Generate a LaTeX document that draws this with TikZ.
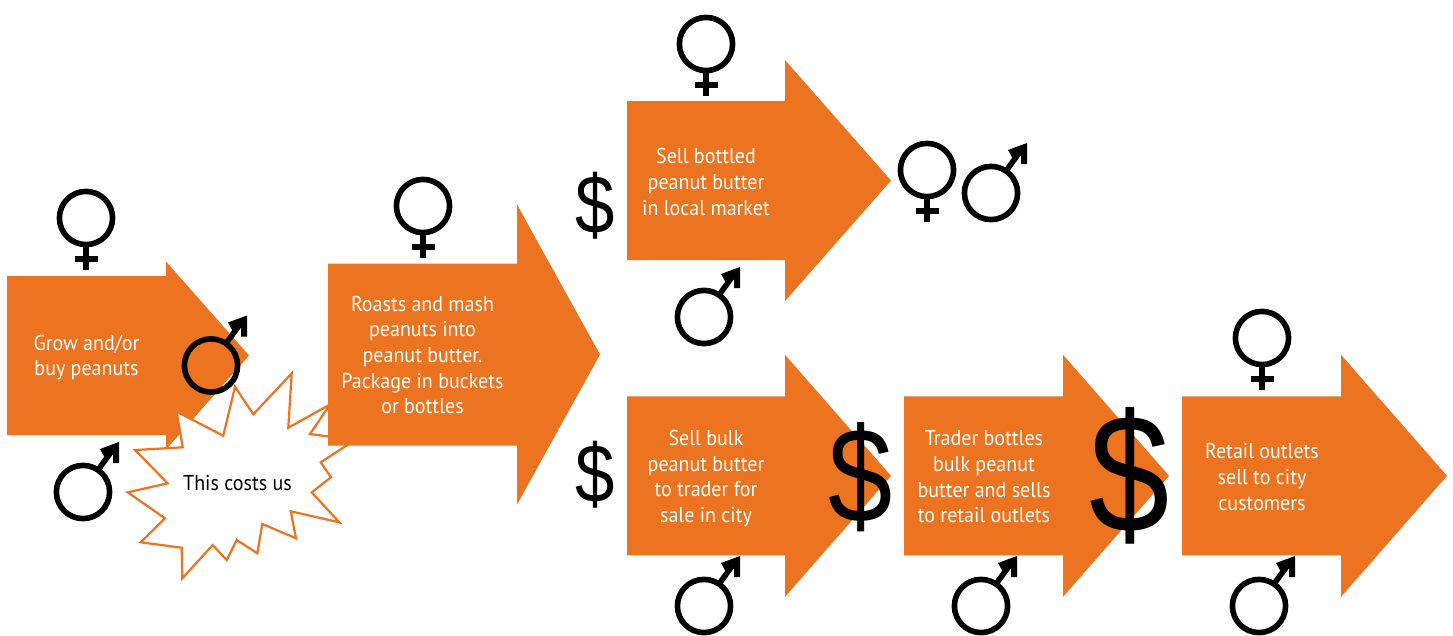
\documentclass[tikz,border=0pt]{standalone}
\usepackage{fontspec}
\setmainfont{PT Sans}[FakeStretch=0.93]
\newfontfamily\dollarfont{Liberation Sans}
\definecolor{peach}{HTML}{EC731F}
\tikzset{
  x=1pt,y=-1pt,
  flowarrow/.style={fill=peach,draw=none},
  flowtext/.style={text=white,align=center,font=\fontsize{21.5}{25.7}\selectfont,inner sep=0pt},
  burst/.style={fill=white,draw=peach,line width=2.2pt,miter limit=10},
  sign/.style={line width=5.6pt,draw=black},
  dollar/.style={inner sep=0pt,text=black}
}
% x0, xneck, xtip, ycentre, body half height, head half height
\newcommand{\flowarrowshape}[6]{%
  \fill[flowarrow] (#1,#4-#5) -- (#2,#4-#5) -- (#2,#4-#6) -- (#3,#4) -- (#2,#4+#6) -- (#2,#4+#5) -- (#1,#4+#5) -- cycle;}
\newcommand{\femalesign}[2]{%
  \draw[sign] (#1,#2) circle[radius=26.6];
  \draw[sign] (#1,#2+29) -- (#1,#2+52);
  \draw[sign] (#1-11.5,#2+41) -- (#1+11.5,#2+41);}
\newcommand{\malesign}[2]{%
  \draw[sign] (#1,#2) circle[radius=26.6];
  \draw[sign] (#1+15,#2-22) -- (#1+31,#2-44);
  \fill[black] (#1+36,#2-50) -- (#1+36,#2-29) -- (#1+30,#2-29) -- (#1+30,#2-38) -- (#1+22,#2-34) -- (#1+17,#2-43) -- cycle;}
\newcommand{\bigdollar}{\scalebox{0.93}[1.09]{\$}}
\begin{document}
\begin{tikzpicture}
\useasboundingbox (0,0) rectangle (1453,635);
% arrow 1, then the burst over it, then arrow 2 over the burst
\flowarrowshape{7}{166}{249}{355.5}{79.5}{94}
\draw[burst] (176.7,411.7) -- (223.3,435.7) -- (235,386.7) -- (253.3,414.3) -- (291.7,373.3) -- (288.3,427.7) -- (330,404.5) -- (310,434) -- (355,440) -- (320.7,462.3) -- (331,477.3) -- (311.7,492.3) -- (339.3,522.3) -- (290.7,511.3) -- (296,538.3) -- (262.3,524) -- (257.3,553.3) -- (236.7,540) -- (226.7,560) -- (212.7,545) -- (182.3,578.3) -- (181.7,547.7) -- (140.7,542.3) -- (165,518.3) -- (127.7,492.3) -- (167.7,483.3) -- (135,450) -- (182.7,447.3) -- cycle;
\flowarrowshape{328}{517}{600}{354.5}{91}{150}
\flowarrowshape{627}{785}{891}{180.5}{79.5}{120.5}
\flowarrowshape{627}{785}{891}{475.8}{79.5}{121}
\flowarrowshape{904}{1063}{1169}{475.8}{79.5}{121}
\flowarrowshape{1182}{1341}{1447}{475.8}{79.5}{121}
% labels
\node[flowtext] (t1) at (86.5,357.5) {Grow and/or\\buy peanuts};
\node[flowtext] (t2) at (422.5,355) {Roasts and mash\\peanuts into\\peanut butter.\\Package in buckets\\or bottles};
\node[flowtext] (t3) at (706,182) {Sell bottled\\peanut butter\\in local market};
\node[flowtext] (t4) at (706,478.5) {Sell bulk\\peanut butter\\to trader for\\sale in city};
\node[flowtext] (t5) at (984,477) {Trader bottles\\bulk peanut\\butter and sells\\to retail outlets};
\node[flowtext] (t6) at (1262,477) {Retail outlets\\sell to city\\customers};
\node[flowtext,text=black] (t7) at (237.5,483.5) {This costs us};
% dollars
\node[dollar,font=\dollarfont\fontsize{76}{76}\selectfont] (d1) at (595,206) {\bigdollar};
\node[dollar,font=\dollarfont\fontsize{76}{76}\selectfont] (d2) at (595,474.5) {\bigdollar};
\node[dollar,font=\dollarfont\fontsize{124}{124}\selectfont] (d3) at (861,477) {\bigdollar};
\node[dollar,font=\dollarfont\fontsize{155}{155}\selectfont] (d4) at (1130,476) {\bigdollar};
% signs
\femalesign{86}{218}
\femalesign{423}{206}
\femalesign{706}{44}
\femalesign{927}{170}
\femalesign{1262}{338}
\malesign{83}{492}
\malesign{211}{365.5}
\malesign{704}{317}
\malesign{991}{193}
\malesign{704}{606}
\malesign{981}{606}
\malesign{1259}{606}
\end{tikzpicture}
\end{document}
